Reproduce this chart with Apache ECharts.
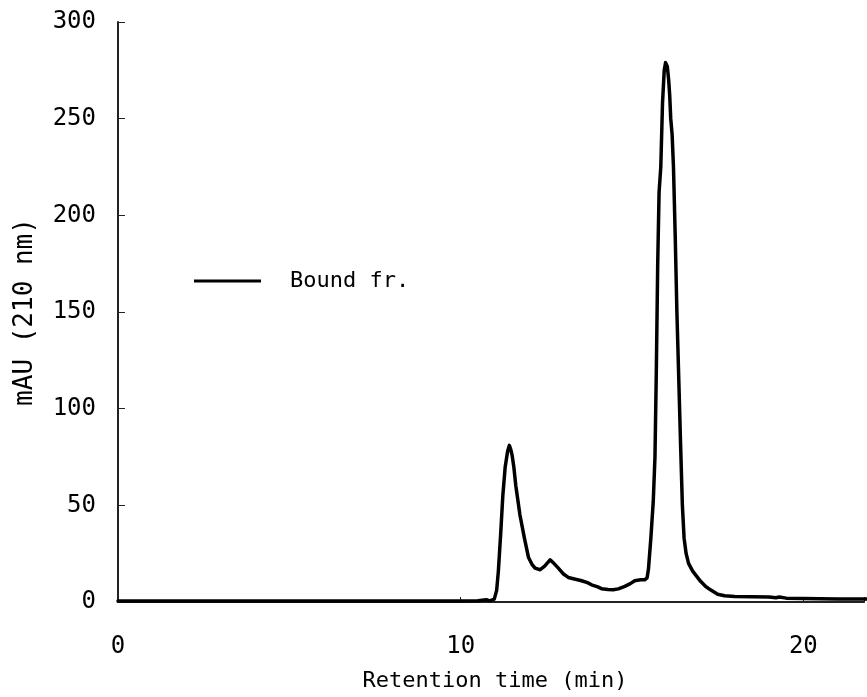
<!DOCTYPE html>
<html>
<head>
<meta charset="utf-8">
<script src="https://cdn.jsdelivr.net/npm/echarts@6/dist/echarts.min.js"></script>
<style>
html,body{margin:0;padding:0;background:#fff;}
#chart{width:867px;height:697px;}
</style>
</head>
<body>
<div id="chart"></div>
<script>
const seriesName = 'Bound fr.';
const xTicks = [0, 10, 20];
const yTicks = [0, 50, 100, 150, 200, 250, 300];
const times = [0, 2, 4, 6, 8, 10, 10.5, 10.75, 10.85, 10.98, 11.05, 11.1, 11.17, 11.23, 11.3, 11.37, 11.42, 11.46, 11.5, 11.55, 11.61, 11.73, 11.86, 11.98, 12.08, 12.17, 12.32, 12.45, 12.61, 12.72, 12.85, 13.0, 13.14, 13.35, 13.53, 13.7, 13.82, 14.0, 14.11, 14.3, 14.45, 14.6, 14.79, 14.95, 15.08, 15.25, 15.37, 15.44, 15.48, 15.55, 15.62, 15.67, 15.71, 15.75, 15.79, 15.84, 15.89, 15.94, 15.98, 16.03, 16.07, 16.1, 16.13, 16.17, 16.21, 16.26, 16.31, 16.37, 16.42, 16.47, 16.52, 16.58, 16.65, 16.77, 16.9, 17.0, 17.15, 17.29, 17.5, 17.7, 18.0, 19.0, 19.2, 19.3, 19.5, 20, 21, 22];
const values = [0.5, 0.5, 0.5, 0.5, 0.5, 0.5, 0.6, 1.2, 0.6, 1.5, 6, 16, 36, 55, 70, 78, 81, 79, 76, 70, 60, 45, 33, 23, 19.5, 17.5, 16.7, 18.5, 21.8, 20, 17.5, 14.5, 12.7, 11.8, 11, 10, 8.9, 7.8, 6.9, 6.5, 6.3, 6.8, 8.1, 9.5, 11, 11.5, 11.5, 12.5, 17, 33, 52, 75, 120, 175, 212, 225, 258, 275, 279, 277, 270, 262, 250, 242, 225, 190, 150, 112, 80, 50, 33, 25, 20, 16, 13, 10.7, 8, 6.3, 4, 3.2, 2.9, 2.6, 2.2, 2.6, 2, 1.8, 1.5, 1.5];

const data = times.map((t, i) => [t, values[i]]);
const FONT = 'DejaVu Sans Mono';
const X_MAX = 21.77;

const chart = echarts.init(document.getElementById('chart'), null, {renderer: 'canvas'});
chart.setOption({
  animation: false,
  backgroundColor: '#fff',
  grid: {left: 118, right: 0, top: 22, bottom: 93, containLabel: false},
  legend: {
    show: true,
    left: 189,
    top: 265,
    itemWidth: 67,
    itemHeight: 20,
    data: [{name: seriesName, icon: 'path://M0,0 L67,0 L67,3 L0,3 Z'}],
    textStyle: {fontFamily: FONT, fontSize: 22, color: '#000', padding: [0, 0, 0, 24]},
    itemStyle: {color: '#000'}
  },
  xAxis: [{
    type: 'value',
    min: 0,
    max: X_MAX,
    interval: 10,
    name: 'Retention time (min)',
    nameLocation: 'middle',
    nameGap: 68,
    nameTextStyle: {fontFamily: FONT, fontSize: 22, color: '#000', padding: [0, 0, 0, 8]},
    axisLine: {show: true, onZero: false, lineStyle: {color: '#222', width: 1.5}},
    axisTick: {show: false},
    axisLabel: {fontFamily: FONT, fontSize: 24, color: '#000', margin: 33,
      formatter: v => xTicks.includes(v) ? String(v) : ''},
    splitLine: {show: false}
  }, {
    type: 'value',
    position: 'top',
    min: 0,
    max: X_MAX,
    axisLine: {show: true, lineStyle: {color: '#222', width: 2}},
    axisTick: {show: false},
    axisLabel: {show: false},
    splitLine: {show: false}
  }, {
    type: 'value',
    position: 'bottom',
    offset: -5,
    min: 0,
    max: X_MAX,
    interval: 10,
    axisLine: {show: false},
    axisTick: {show: true, length: 5, lineStyle: {color: '#222', width: 1}},
    axisLabel: {show: false},
    splitLine: {show: false}
  }],
  yAxis: [{
    type: 'value',
    min: 0,
    max: 300,
    interval: 50,
    name: 'mAU (210 nm)',
    nameLocation: 'middle',
    nameGap: 80,
    nameRotate: 90,
    nameTextStyle: {fontFamily: FONT, fontSize: 26, color: '#000'},
    axisLine: {show: true, lineStyle: {color: '#222', width: 2}},
    axisTick: {show: false},
    axisLabel: {fontFamily: FONT, fontSize: 24, color: '#000', margin: 22,
      formatter: v => yTicks.includes(v) ? String(v) : ''},
    splitLine: {show: false}
  }, {
    type: 'value',
    position: 'left',
    offset: -7,
    min: 0,
    max: 300,
    interval: 50,
    axisLine: {show: false},
    axisTick: {show: true, length: 7, lineStyle: {color: '#222', width: 1}},
    axisLabel: {show: false},
    splitLine: {show: false}
  }],
  series: [{
    name: seriesName,
    type: 'line',
    xAxisIndex: 0,
    yAxisIndex: 0,
    data: data,
    showSymbol: false,
    symbol: 'none',
    clip: true,
    lineStyle: {color: '#000', width: 3.5, join: 'round', cap: 'round'},
    itemStyle: {color: '#000'}
  }]
});
</script>
</body>
</html>
